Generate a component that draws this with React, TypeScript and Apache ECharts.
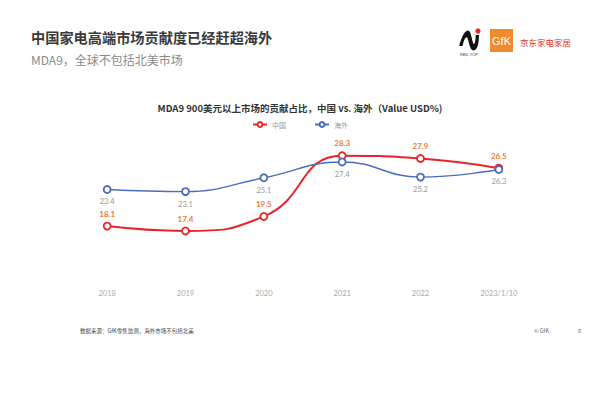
import React, { useEffect, useRef } from "react";
import * as echarts from "echarts";

const categories = ["2018", "2019", "2020", "2021", "2022", "2023/1/10"];
const chinaValues = [18.1, 17.4, 19.5, 28.3, 27.9, 26.5];
const overseasValues = [23.4, 23.1, 25.1, 27.4, 25.2, 26.3];
const seriesNames = ["中国", "海外"];

const mainTitle = "中国家电高端市场贡献度已经赶超海外";
const subTitle = "MDA9，全球不包括北美市场";
const chartTitle = "MDA9 900美元以上市场的贡献占比，中国 vs. 海外（Value USD%)";
const footnote = "数据来源：GfK零售监测，海外市场不包括北美";

const NI_PATH =
  "M2 20 C4 12 7 6 10 6 C13 6 13 14 15 18 C16 20 17 14 17 10 L20 10 C20 16 19 24 15 24 C11 24 11 14 9 12 C7 12 6 16 5 20 Z";

export default function App() {
  const ref = useRef<HTMLDivElement>(null);
  useEffect(() => {
    if (!ref.current) return;
    try {
      echarts.graphic.registerShape("nilogo", echarts.graphic.extendPath(NI_PATH, {}) as any);
    } catch (e) {}
    const chart = echarts.init(ref.current, null, { renderer: "svg" });
    const font = "'Noto Sans CJK SC', 'Noto Sans', sans-serif";
    chart.setOption({
      animation: false,
      backgroundColor: "#ffffff",
      textStyle: { fontFamily: font },
      title: [
        {
          text: mainTitle,
          left: 26,
          top: 25,
          textStyle: { fontSize: 14.2, fontWeight: "bold", color: "#3a3a3a", fontFamily: font },
        },
        {
          text: subTitle,
          left: 26,
          top: 48,
          textStyle: { fontSize: 12, fontWeight: "normal", color: "#8a8a8a", fontFamily: font },
        },
        {
          text: chartTitle,
          left: "center",
          top: 98,
          textStyle: { fontSize: 9.5, fontWeight: "bold", color: "#333", fontFamily: font },
        },
      ],
      legend: {
        data: seriesNames,
        top: 116,
        left: "center",
        itemGap: 28,
        itemWidth: 14,
        itemHeight: 6,
        textStyle: { fontSize: 7, color: "#999" },
      },
      grid: { left: 68, right: 62, top: 144, bottom: 115 },
      xAxis: {
        type: "category",
        data: categories,
        boundaryGap: true,
        axisLine: { show: false },
        axisTick: { show: false },
        axisLabel: { color: "#aaa", fontSize: 7.5, margin: 7, fontFamily: "Lato, sans-serif" },
      },
      yAxis: {
        type: "value",
        min: 10,
        max: 30,
        show: false,
        splitLine: { show: false },
      },
      series: [
        {
          name: seriesNames[0],
          type: "line",
          data: chinaValues,
          smooth: 0.5,
          symbol: "circle",
          symbolSize: 7,
          lineStyle: { color: "#e8242a", width: 2 },
          itemStyle: { color: "#ffffff", borderColor: "#e8242a", borderWidth: 1.8 },
          label: {
            show: true,
            position: "top",
            distance: 4,
            color: "#ec7a33",
            fontWeight: "bold",
            fontSize: 8,
            fontFamily: "Lato, sans-serif",
          },
          z: 3,
        },
        {
          name: seriesNames[1],
          type: "line",
          data: overseasValues,
          smooth: 0.45,
          symbol: "circle",
          symbolSize: 7,
          lineStyle: { color: "#4a6cc0", width: 1.4 },
          itemStyle: { color: "#ffffff", borderColor: "#4a6cc0", borderWidth: 1.8 },
          label: {
            show: true,
            position: "bottom",
            distance: 4,
            color: "#999",
            fontSize: 7.5,
            fontFamily: "Lato, sans-serif",
          },
          z: 4,
        },
      ],
      graphic: [
        {
          type: "nilogo",
          x: 457,
          y: 24,
          scaleX: 1.1,
          scaleY: 1.1,
          style: { fill: "#111" },
        },
        { type: "circle", shape: { cx: 478, cy: 31, r: 2.6 }, style: { fill: "#e8242a" } },
        {
          type: "text",
          x: 460,
          y: 52,
          style: { text: "RED-TOP", fontSize: 4, fill: "#333", fontFamily: "sans-serif" },
        },
        { type: "rect", shape: { x: 490, y: 29, width: 23, height: 23 }, style: { fill: "#f08a2c" } },
        {
          type: "text",
          x: 501.5,
          y: 41,
          style: {
            text: "GfK",
            fontSize: 11,
            fill: "#fff",
            align: "center",
            verticalAlign: "middle",
            fontFamily: "sans-serif",
          },
        },
        {
          type: "text",
          x: 520,
          y: 42,
          style: {
            text: "京东家电家居",
            fontSize: 8.5,
            fill: "#e3322b",
            verticalAlign: "middle",
            fontFamily: font,
          },
        },
        {
          type: "text",
          x: 80,
          y: 331,
          style: { text: footnote, fontSize: 5.5, fill: "#444", verticalAlign: "middle", fontFamily: font },
        },
        {
          type: "text",
          x: 534,
          y: 331,
          style: { text: "© GfK", fontSize: 5.5, fill: "#666", verticalAlign: "middle", fontFamily: font },
        },
        {
          type: "text",
          x: 578,
          y: 331,
          style: { text: "8", fontSize: 5.5, fill: "#666", verticalAlign: "middle", fontFamily: font },
        },
      ],
    });
    return () => chart.dispose();
  }, []);
  return (
    <div
      ref={ref}
      style={{ position: "fixed", left: 0, top: 0, width: 600, height: 397, background: "#fff" }}
    />
  );
}
